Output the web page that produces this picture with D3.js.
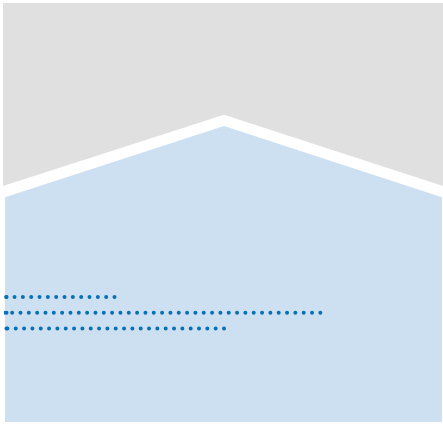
<!DOCTYPE html>
<html>
<head>
<meta charset="utf-8">
<script src="https://cdn.jsdelivr.net/npm/d3@7"></script>
<style>
    html, body { margin: 0; padding: 0; background: #fff; }
    svg { display: block; }
</style>
</head>
<body>
<div id="chart"></div>
<script>
"use strict";
const WIDTH = 443;
const HEIGHT = 424;
const DOT_GAP = 8.33;
const DOT_SIZE = 4;
const HALF_GAP = 5.6;

// area profile (x in %, height in %)
const profileX = [0, 50, 100];
const profileY = [55, 72, 55];

// dotted rows
const rows = [0, 1, 2];
const rowValues = [25, 72, 50];

const x = d3.scaleLinear().domain([0, 100]).range([5, 443]);
const y = d3.scaleLinear().domain([0, 100]).range([422, 3]);
const rowY = d3.scalePoint().domain(rows).range([297, 328.4]);

const svg = d3.select("#chart").append("svg")
    .attr("width", WIDTH)
    .attr("height", HEIGHT);

const profile = profileX.map(function (d, i) {
    return {x: d, y: profileY[i]};
});

// grey upper part
svg.append("path")
    .datum(profile)
    .attr("fill", "#e0e0e0")
    .attr("d", d3.area()
        .x(function (d, i) { return i === 0 ? 3 : x(d.x); })
        .y0(y(100))
        .y1(function (d) { return y(d.y) - HALF_GAP; }));

// blue lower part
svg.append("path")
    .datum(profile)
    .attr("fill", "#cce0f2")
    .attr("d", d3.area()
        .x(function (d, i) { return i === profile.length - 1 ? 442 : x(d.x); })
        .y0(y(0))
        .y1(function (d) { return y(d.y) + HALF_GAP; }));

svg.append("defs").append("clipPath")
    .attr("id", "plot-clip")
    .append("rect")
    .attr("x", 4)
    .attr("y", 0)
    .attr("width", 438)
    .attr("height", HEIGHT);

const dots = svg.append("g")
    .attr("clip-path", "url(#plot-clip)");

const rowData = rows.map(function (r, i) {
    return {row: r, value: rowValues[i]};
});

dots.selectAll("line")
    .data(rowData)
    .enter()
    .append("line")
    .attr("x1", function (d) { return x(d.value); })
    .attr("x2", x(0) - 4)
    .attr("y1", function (d) { return rowY(d.row); })
    .attr("y2", function (d) { return rowY(d.row); })
    .attr("stroke", "#0a70b3")
    .attr("stroke-width", DOT_SIZE)
    .attr("stroke-linecap", "round")
    .attr("stroke-dasharray", "0," + DOT_GAP);

dots.selectAll("circle")
    .data(rowData)
    .enter()
    .append("circle")
    .attr("cx", x(0) + 1.5)
    .attr("cy", function (d) { return rowY(d.row); })
    .attr("r", DOT_SIZE / 2)
    .attr("fill", "#0a70b3");
</script>
</body>
</html>
